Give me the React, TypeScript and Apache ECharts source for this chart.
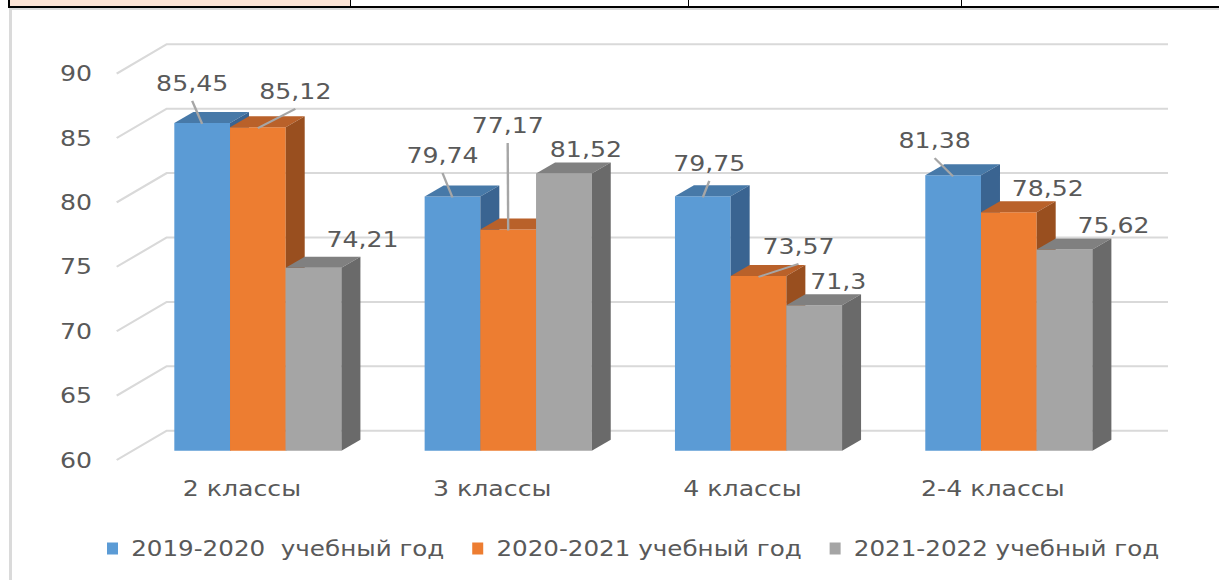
import React, { useEffect, useRef } from "react";
import * as echarts from "echarts";

// ---------- data ----------
const CATEGORIES = ["2 классы", "3 классы", "4 классы", "2-4 классы"];
const SERIES_NAMES = ["2019-2020  учебный год", "2020-2021 учебный год", "2021-2022 учебный год"];
const Y2019 = [85.45, 79.74, 79.75, 81.38];
const Y2020 = [85.12, 77.17, 73.57, 78.52];
const Y2021 = [74.21, 81.52, 71.3, 75.62];
const Y_TICKS = [60, 65, 70, 75, 80, 85, 90];

// ---------- layout / style ----------
const S = 1.2; // horizontal stretch of the picture
const CW = 1219 / S;
const FRONT = ["#5B9BD5", "#ED7D31", "#A5A5A5"];
const TOPC = ["#4779A8", "#B9612A", "#808080"];
const SIDE = ["#3A6491", "#994F1F", "#6A6A6A"];
const BAR_W = 55.7 / S;
const DEPTH_X = 19 / S;
const DEPTH_Y = -11;
const FRONT_DX = -16 / S;
const FRONT_DY = 9.3;
const BACK_DX = 34 / S;
const BACK_DY = -20;
const TEXT = "#595959";
const FONT = "DejaVu Sans";
// label offset from the bar's top-front centre [dx(ref px), dy, leader]
const LABEL_LAYOUT = [
  [[-10, -40, 1], [-10, -41.5, 1], [6.5, -33.4, 1], [-18.5, -35.3, 1]],
  [[37.5, -36.2, 1], [-0.5, -104.5, 1], [40, -30, 1], [39, -24, 0]],
  [[49, -28, 0], [22, -24, 0], [24, -24, 0], [49, -24, 0]],
];

const fmt = (v: number) => String(v).replace(".", ",");

export default function App() {
  const ref = useRef<HTMLDivElement>(null);
  useEffect(() => {
    if (!ref.current) return;
    const chart = echarts.init(ref.current, undefined, { renderer: "svg" });
    const seriesData = [Y2019, Y2020, Y2021];

    const gridSeries = {
      type: "custom",
      xAxisIndex: 0,
      yAxisIndex: 0,
      silent: true,
      z: 1,
      data: Y_TICKS.map((t) => [0, t]),
      renderItem: (params: any, api: any) => {
        const t = api.value(1);
        const p0 = api.coord([0, t]);
        const p3 = api.coord([CATEGORIES.length - 1, t]);
        const band = api.size([1, 0])[0];
        const lx = p0[0] - band / 2;
        const rx = p3[0] + band / 2;
        const y = p0[1];
        return {
          type: "polyline",
          shape: {
            points: [
              [lx + FRONT_DX, y + FRONT_DY],
              [lx + BACK_DX, y + BACK_DY],
              [rx + BACK_DX, y + BACK_DY],
            ],
          },
          style: { stroke: "#D9D9D9", lineWidth: 2, fill: "none" },
        };
      },
    };

    const barSeries = seriesData.map((vals, k) => ({
      type: "custom",
      name: SERIES_NAMES[k],
      xAxisIndex: 0,
      yAxisIndex: 0,
      z: 2,
      itemStyle: { color: FRONT[k] },
      data: vals.map((v, i) => [i, v]),
      renderItem: (params: any, api: any) => {
        const i = api.value(0);
        const v = api.value(1);
        const top = api.coord([i, v]);
        const base = api.coord([i, 60]);
        const left = top[0] - 1.5 * BAR_W + k * BAR_W;
        const right = left + BAR_W;
        const ty = top[1];
        const by = base[1];
        const cx = left + BAR_W / 2;
        const lay = LABEL_LAYOUT[k][i];
        const lx = cx + lay[0] / S;
        const ly = ty + lay[1];
        const children: any[] = [
          {
            type: "rect",
            shape: { x: left, y: ty, width: BAR_W, height: by - ty },
            style: { fill: FRONT[k] },
          },
          {
            type: "polygon",
            shape: {
              points: [
                [left, ty],
                [left + DEPTH_X, ty + DEPTH_Y],
                [right + DEPTH_X, ty + DEPTH_Y],
                [right, ty],
              ],
            },
            style: { fill: TOPC[k] },
          },
          {
            type: "polygon",
            shape: {
              points: [
                [right, ty],
                [right + DEPTH_X, ty + DEPTH_Y],
                [right + DEPTH_X, by + DEPTH_Y],
                [right, by],
              ],
            },
            style: { fill: SIDE[k] },
          },
        ];
        if (lay[2]) {
          children.push({
            type: "line",
            z2: 90,
            shape: { x1: lx, y1: ly + 18, x2: cx, y2: ty + 1 },
            style: { stroke: "#A6A6A6", lineWidth: 2 },
          });
        }
        children.push({
          type: "text",
          z2: 100,
          x: lx,
          y: ly,
          style: {
            text: fmt(v),
            fill: TEXT,
            fontSize: 21,
            fontFamily: FONT,
            align: "center",
            verticalAlign: "middle",
          },
        });
        return { type: "group", children };
      },
    }));

    chart.setOption({
      animation: false,
      backgroundColor: "transparent",
      textStyle: { fontFamily: FONT },
      grid: [
        { left: 132.7 / S, top: 64.3, width: 1001.3 / S, height: 386.4 },
        { left: 116.7 / S, top: 73.6, width: 1001.3 / S, height: 386.4 },
      ],
      xAxis: [
        { type: "category", gridIndex: 0, data: CATEGORIES, show: false },
        {
          type: "category",
          gridIndex: 1,
          data: CATEGORIES,
          axisLine: { show: false },
          axisTick: { show: false },
          splitLine: { show: false },
          axisLabel: { color: TEXT, fontSize: 21, fontFamily: FONT, margin: 18 },
        },
      ],
      yAxis: [
        { type: "value", gridIndex: 0, min: 60, max: 90, interval: 5, show: false },
        {
          type: "value",
          gridIndex: 1,
          min: 60,
          max: 90,
          interval: 5,
          axisLine: { show: false },
          axisTick: { show: false },
          splitLine: { show: false },
          axisLabel: { color: TEXT, fontSize: 21, fontFamily: FONT, margin: 20.5 },
        },
      ],
      legend: {
        data: SERIES_NAMES.map((n) => ({ name: n, icon: "rect" })),
        left: 107 / S,
        top: 538,
        padding: 0,
        itemWidth: 11 / S,
        itemHeight: 12,
        itemGap: 23,
        textStyle: { color: TEXT, fontSize: 20.5, fontFamily: FONT, padding: [0, 0, 0, 6] },
      },
      series: [gridSeries, ...barSeries],
    });
    return () => chart.dispose();
  }, []);

  return (
    <div
      style={{
        position: "absolute",
        left: 0,
        top: 0,
        width: 1219,
        height: 580,
        background: "#fff",
        overflow: "hidden",
      }}
    >
      {/* table row above the chart */}
      <div style={{ position: "absolute", left: 9, top: 0, width: 341, height: 6, background: "#FCE4D6" }} />
      <div style={{ position: "absolute", left: 8, top: 0, width: 2, height: 8, background: "#000" }} />
      <div style={{ position: "absolute", left: 8, top: 6, width: 1211, height: 2, background: "#000" }} />
      <div style={{ position: "absolute", left: 350, top: 0, width: 1, height: 7, background: "#000" }} />
      <div style={{ position: "absolute", left: 688, top: 0, width: 1, height: 7, background: "#000" }} />
      <div style={{ position: "absolute", left: 961, top: 0, width: 1, height: 7, background: "#000" }} />
      {/* chart frame */}
      <div style={{ position: "absolute", left: 9, top: 8, width: 3, height: 572, background: "#DADADA" }} />
      <div style={{ position: "absolute", left: 9, top: 8, width: 1210, height: 2, background: "#DADADA" }} />
      <div
        ref={ref}
        style={{
          position: "absolute",
          left: 0,
          top: 0,
          width: CW,
          height: 580,
          transform: `scaleX(${S})`,
          transformOrigin: "0 0",
        }}
      />
    </div>
  );
}
